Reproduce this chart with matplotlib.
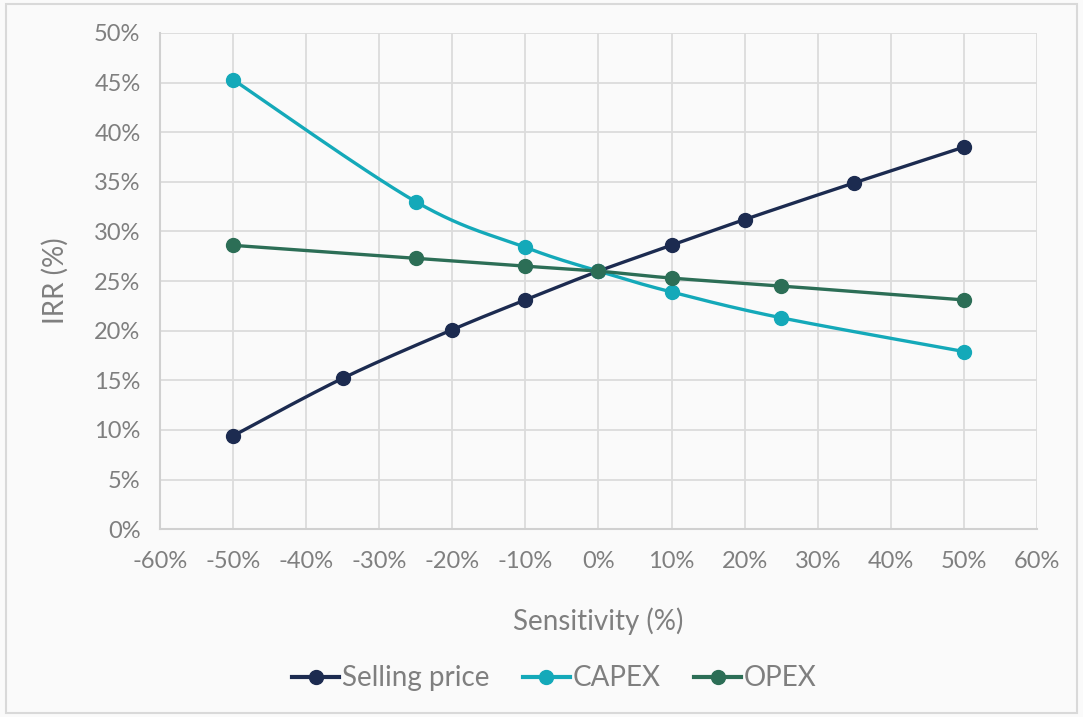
import numpy as np
import matplotlib.pyplot as plt
from matplotlib.patches import Rectangle
from matplotlib.lines import Line2D

plt.rcParams['font.family'] = ['Lato', 'DejaVu Sans']

# sensitivity (%) vs IRR (%)
sp_x = [-50, -35, -20, -10, 0, 10, 20, 35, 50]
sp_y = [9.4, 15.2, 20.1, 23.1, 26.0, 28.6, 31.2, 34.9, 38.5]
capex_x = [-50, -25, -10, 0, 10, 25, 50]
capex_y = [45.3, 33.0, 28.4, 26.0, 23.9, 21.3, 17.9]
opex_x = [-50, -25, -10, 0, 10, 25, 50]
opex_y = [28.6, 27.3, 26.5, 26.0, 25.3, 24.5, 23.1]

names = ['Selling price', 'CAPEX', 'OPEX']
colors = ['#1c2b50', '#14a9b9', '#2c6e56']
grey = '#7f7f7f'


def smooth(x, y, n=30):
    # Catmull-Rom style bezier, like spreadsheet "smoothed line"
    x = np.asarray(x, float)
    y = np.asarray(y, float)
    px = np.concatenate([[x[0]], x, [x[-1]]])
    py = np.concatenate([[y[0]], y, [y[-1]]])
    xs, ys = [], []
    t = np.linspace(0, 1, n)
    for i in range(1, len(px) - 2):
        p0 = np.array([px[i], py[i]])
        p3 = np.array([px[i + 1], py[i + 1]])
        p1 = p0 + (p3 - np.array([px[i - 1], py[i - 1]])) / 6
        p2 = p3 - (np.array([px[i + 2], py[i + 2]]) - p0) / 6
        b = ((1 - t) ** 3)[:, None] * p0 + (3 * (1 - t) ** 2 * t)[:, None] * p1 \
            + (3 * (1 - t) * t ** 2)[:, None] * p2 + (t ** 3)[:, None] * p3
        xs.append(b[:, 0])
        ys.append(b[:, 1])
    return np.concatenate(xs), np.concatenate(ys)


fig = plt.figure(figsize=(10.83, 7.17), dpi=100, facecolor='#fafafa')
ax = fig.add_axes([0.1477, 0.262, 0.8098, 0.692])
ax.set_facecolor('#fafafa')

for (x, y), c in zip([(sp_x, sp_y), (capex_x, capex_y), (opex_x, opex_y)], colors):
    sx, sy = smooth(x, y)
    ax.plot(sx, sy, color=c, lw=2.4, solid_capstyle='round', zorder=3)
    ax.plot(x, y, 'o', color=c, ms=10, zorder=4)

ax.set_xlim(-60, 60)
ax.set_ylim(0, 50)
ax.set_xticks(np.arange(-60, 61, 10))
ax.set_yticks(np.arange(0, 51, 5))
ax.set_xticklabels([f'{v}%' for v in range(-60, 61, 10)])
ax.set_yticklabels([f'{v}%' for v in range(0, 51, 5)])
ax.grid(True, color='#dcdcdc', lw=1.3)
ax.set_axisbelow(True)
for s in ['top', 'right']:
    ax.spines[s].set_visible(False)
for s in ['left', 'bottom']:
    ax.spines[s].set_color('#d0d0d0')
    ax.spines[s].set_linewidth(1.5)
ax.tick_params(length=0, labelsize=17, colors=grey)
ax.tick_params(axis='x', pad=16)
ax.tick_params(axis='y', pad=14)

ax.set_xlabel('Sensitivity (%)', fontsize=20, color=grey, labelpad=25)
ax.set_ylabel('IRR (%)', fontsize=20, color=grey, labelpad=18)

handles = [Line2D([], [], color=c, lw=3, marker='o', ms=10) for c in colors]
fig.legend(handles, names, loc='center', bbox_to_anchor=(0.512, 0.054), ncol=3,
           frameon=False, fontsize=20, labelcolor=grey, handlelength=1.7,
           handletextpad=0.1, columnspacing=1.2)

fig.patches.append(Rectangle((0.006, 0.005), 0.988, 0.99, transform=fig.transFigure,
                             fill=False, edgecolor='#d9d9d9', lw=1.5))

fig.savefig('out.png', dpi=100, facecolor=fig.get_facecolor())
